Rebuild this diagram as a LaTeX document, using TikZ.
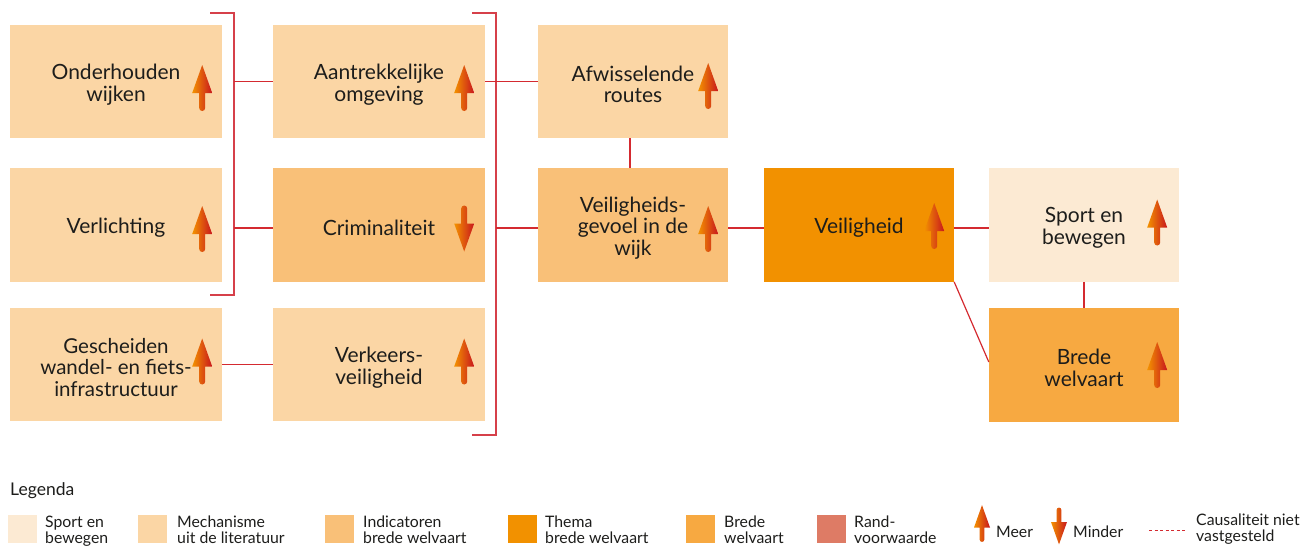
\documentclass[tikz,border=0pt]{standalone}
\usepackage{fontspec}
\setmainfont{Lato}
\definecolor{ink}{HTML}{1D1D1B}
\definecolor{cSport}{HTML}{FCEAD3}
\definecolor{cMech}{HTML}{FBD6A5}
\definecolor{cInd}{HTML}{F9C078}
\definecolor{cThema}{HTML}{F29100}
\definecolor{cBrede}{HTML}{F7A941}
\definecolor{cRand}{HTML}{DE7B65}
\definecolor{lineRed}{HTML}{D42A30}
\definecolor{bracketRed}{HTML}{D6404A}
\definecolor{arrowA}{HTML}{F39200}
\definecolor{arrowB}{HTML}{C8161D}
\begin{document}
\begin{tikzpicture}[x=1pt,y=-1pt,
  box/.style={inner sep=0pt, minimum height=113.5pt},
  wide/.style={box, minimum width=212pt},
  narrow/.style={box, minimum width=190pt},
  lbl/.style={inner sep=0pt, align=center, text=ink, yshift=-3pt,
    font=\fontsize{21}{21.5}\selectfont},
  mech/.style={fill=cMech},
  ind/.style={fill=cInd},
  thema/.style={fill=cThema},
  sportc/.style={fill=cSport},
  bredec/.style={fill=cBrede},
  link/.style={draw=lineRed, line width=1.2pt},
  bracket/.style={draw=bracketRed, line width=1.6pt},
  legsq/.style={minimum width=29pt, minimum height=28pt, inner sep=0pt},
  legtxt/.style={anchor=base west, align=left, inner sep=0pt, text=ink,
    font=\fontsize{15.8}{16}\selectfont},
  meer/.pic={\shade[left color=arrowA, right color=arrowB]
    (0,-23) -- (10,5) -- (3,5) -- (3,20) arc (0:-180:3pt) -- (-3,5) -- (-10,5) -- cycle;},
  minder/.pic={\shade[left color=arrowA, right color=arrowB]
    (0,23) -- (10,-5) -- (3,-5) -- (3,-20) arc (0:180:3pt) -- (-3,-5) -- (-10,-5) -- cycle;}
]
\useasboundingbox (0,0) rectangle (1310,547);

% boxes, each with its centred caption
\node[wide, mech, label={[lbl]center:{Onderhouden\\wijken}}] (onder) at (116,81.5) {};
\node[wide, mech, label={[lbl]center:{Verlichting}}] (verl) at (116,225) {};
\node[wide, mech, label={[lbl, font=\fontsize{20.5}{21.5}\selectfont]center:{Gescheiden\\wandel- en fiets-\\infrastructuur}}] (gesch) at (116,364.5) {};
\node[wide, mech, label={[lbl]center:{Aantrekkelijke\\omgeving}}] (aantr) at (379,81.5) {};
\node[wide, ind, label={[lbl]center:{Criminaliteit}}] (crim) at (379,225) {};
\node[wide, mech, label={[lbl]center:{Verkeers-\\veiligheid}}] (verk) at (379,364.5) {};
\node[narrow, mech, label={[lbl]center:{Afwisselende\\routes}}] (afw) at (633,81.5) {};
\node[narrow, ind, label={[lbl]center:{Veiligheids-\\gevoel in de\\wijk}}] (gevoel) at (633,225) {};
\node[narrow, thema, label={[lbl]center:{Veiligheid}}] (veil) at (859,225) {};
\node[narrow, sportc, label={[lbl]center:{Sport en\\bewegen}}] (sport) at (1084,225) {};
\node[narrow, bredec, label={[lbl]center:{Brede\\welvaart}}] (brede) at (1084,365) {};

% direction arrows
\pic at ([shift={(-20,6.5)}]onder.east) {meer};
\pic at ([shift={(-20,4)}]verl.east) {meer};
\pic at ([shift={(-20,-3)}]gesch.east) {meer};
\pic at ([shift={(-21,6.5)}]aantr.east) {meer};
\pic at ([shift={(-21,3.5)}]crim.east) {minder};
\pic at ([shift={(-21,-3)}]verk.east) {meer};
\pic at ([shift={(-20,4.5)}]afw.east) {meer};
\pic at ([shift={(-20,4)}]gevoel.east) {meer};
\pic at ([shift={(-20,1)}]veil.east) {meer};
\pic at ([shift={(-22,-2.5)}]sport.east) {meer};
\pic at ([shift={(-22,0)}]brede.east) {meer};

% brackets
\coordinate (b1t) at (234,13);
\coordinate (b1b) at (234,295);
\coordinate (b2t) at (496,13);
\coordinate (b2b) at (496,435);
\draw[bracket] ([xshift=-24pt]b1t) -- (b1t) -- (b1b) -- ([xshift=-24pt]b1b);
\draw[bracket] ([xshift=-24pt]b2t) -- (b2t) -- (b2b) -- ([xshift=-24pt]b2b);

% connectors
\draw[link] (aantr.west -| b1t) -- (aantr.west);
\draw[link] ([yshift=-3pt]crim.west -| b1t) -- ([yshift=-3pt]crim.west);
\draw[link] (gesch.east) -- (verk.west);
\draw[link] (aantr.east) -- (afw.west);
\draw[link] ([yshift=-3pt]gevoel.west -| b2t) -- ([yshift=-3pt]gevoel.west);
\draw[link] ([xshift=-3pt]afw.south) -- ([xshift=-3pt]gevoel.north);
\draw[link] ([yshift=-3pt]gevoel.east) -- ([yshift=-3pt]veil.west);
\draw[link] ([yshift=-3pt]veil.east) -- ([yshift=-3pt]sport.west);
\draw[link] (sport.south) -- (brede.north);
\draw[link] (veil.south east) -- ([yshift=3pt]brede.west);

% legend (base anchors sit on the last line)
\node[anchor=base west, inner sep=0pt, text=ink, font=\fontsize{17.5}{18}\selectfont] (legtitle) at (10,495) {Legenda};
\node[legsq, fill=cSport] (lsq1) at (22.5,529) {};
\node[legtxt] (lt1) at (45,543) {Sport en\\bewegen};
\node[legsq, fill=cMech] (lsq2) at (152.5,529) {};
\node[legtxt] (lt2) at (177,543) {Mechanisme\\uit de literatuur};
\node[legsq, fill=cInd] (lsq3) at (339,529) {};
\node[legtxt] (lt3) at (363,543) {Indicatoren\\brede welvaart};
\node[legsq, fill=cThema] (lsq4) at (522.5,529) {};
\node[legtxt] (lt4) at (545,543) {Thema\\brede welvaart};
\node[legsq, fill=cBrede] (lsq5) at (700.5,529) {};
\node[legtxt] (lt5) at (724,543) {Brede\\welvaart};
\node[legsq, fill=cRand] (lsq6) at (831.5,529) {};
\node[legtxt] (lt6) at (854,543) {Rand-\\voorwaarde};
\pic[scale=0.8] at (982,523.5) {meer};
\node[legtxt] (lt7) at (996,537) {Meer};
\pic[scale=0.8] at (1059,526) {minder};
\node[legtxt] (lt8) at (1073,537) {Minder};
\coordinate (dashA) at (1149,530);
\coordinate (dashB) at (1187,530);
\draw[draw=lineRed, line width=1pt, dash pattern=on 3pt off 2.5pt] (dashA) -- (dashB);
\node[legtxt] (lt9) at (1196,541) {Causaliteit niet\\vastgesteld};
\end{tikzpicture}
\end{document}
